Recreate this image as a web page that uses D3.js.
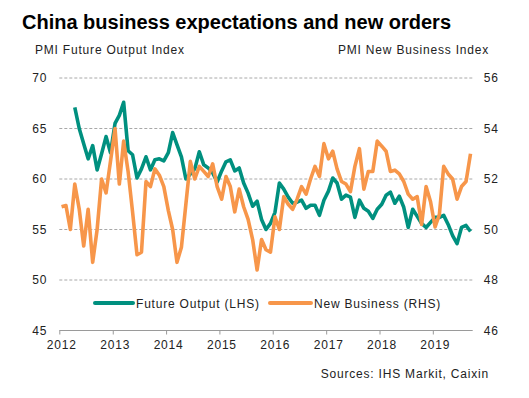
<!DOCTYPE html>
<html><head><meta charset="utf-8">
<script src="https://cdn.jsdelivr.net/npm/d3@7"></script>
<style>
html,body{margin:0;padding:0;background:#fff;}
svg{display:block;font-family:"Liberation Sans",Arial,sans-serif;}
</style></head>
<body>
<svg id="chart" width="529" height="398"></svg>
<script>
const title = "China business expectations and new orders";
const leftAxisTitle = "PMI Future Output Index";
const rightAxisTitle = "PMI New Business Index";
const sourceText = "Sources: IHS Markit, Caixin";
const seriesNames = ["Future Output (LHS)", "New Business (RHS)"];
const startMonth = [2012, 0];
const leftTicks = [45, 50, 55, 60, 65, 70];
const rightTicks = [46, 48, 50, 52, 54, 56];
const yearTicks = [2012, 2013, 2014, 2015, 2016, 2017, 2018, 2019];

const futureOutput = [null, null, null,
  67.1, 65.0, 63.5, 62.0, 63.3, 60.9, 62.5, 64.2, 62.6,
  65.5, 66.3, 67.6, 62.8, 62.4, 60.1, 61.0, 62.2, 60.9, 61.9, 62.0, 61.8,
  62.6, 64.6, 63.4, 62.2, 60.0, 60.5, 61.0, 62.7, 61.4, 61.1, 60.6, 59.7,
  60.8, 61.7, 61.9, 60.8, 61.1, 59.6, 58.6, 57.3, 57.8, 56.0, 55.0, 55.6,
  56.7, 59.6, 59.0, 58.2, 57.6, 57.7, 57.9, 57.1, 57.4, 57.4, 56.4, 57.9,
  58.8, 60.1, 59.6, 58.0, 58.4, 58.2, 56.2, 57.9, 57.1, 56.8, 56.1, 57.0,
  57.5, 58.4, 58.7, 57.6, 58.3, 57.2, 55.2, 57.0, 56.3, 55.6, 55.2, 55.7,
  56.2, 56.2, 56.4, 55.5, 54.4, 53.6, 55.2, 55.4, 54.8];

const newBusiness = [
  50.9, 50.95, 50.0, 51.8, 50.8, 49.35, 50.8, 48.7, 50.0, 52.0, 51.45, 52.7,
  54.0, 51.8, 53.5, 52.3, 50.7, 49.0, 49.1, 51.9, 51.7, 52.4, 52.15, 51.7,
  50.75, 50.0, 48.7, 49.3, 51.0, 52.7, 52.0, 52.5, 52.3, 52.1, 52.6, 51.7,
  51.2, 52.1, 51.7, 50.7, 51.6, 50.9, 50.4, 49.6, 48.4, 49.6, 49.2, 49.1,
  50.5, 50.0, 51.3, 51.0, 50.8, 51.2, 51.7, 51.4, 52.0, 52.5, 52.1, 53.4,
  52.8, 53.1, 52.4, 51.9, 51.8, 51.5, 52.5, 53.2, 51.6, 52.3, 52.3, 53.5,
  53.3, 53.1, 52.3, 52.35, 52.2, 51.9, 51.4, 51.2, 51.3, 50.2, 51.7, 51.1,
  50.1, 50.6, 52.5, 52.2, 52.0, 51.2, 51.7, 51.9, 53.0];

const tealColor = "#00907f";
const orangeColor = "#f7964a";

const svg = d3.select("#chart");
const plot = {left: 59.3, right: 472.7, top: 78, bottom: 330.5};

const months = newBusiness.map((_, i) => new Date(startMonth[0], startMonth[1] + i, 1));
const x = d3.scaleTime()
  .domain([months[0], new Date(startMonth[0], startMonth[1] + newBusiness.length, 1)])
  .range([plot.left, plot.right]);
const xMid = i => (x(months[i]) + x(new Date(startMonth[0], startMonth[1] + i + 1, 1))) / 2;

const yL = d3.scaleLinear().domain([45, 70]).range([plot.bottom, plot.top]);
const yR = d3.scaleLinear().domain([46, 56]).range([plot.bottom, plot.top]);

// Title
svg.append("text").attr("x", 22).attr("y", 29)
  .attr("font-size", 20).attr("font-weight", "bold").attr("fill", "#000")
  .text(title);

const lbl = (sel) => sel.attr("font-size", 12).attr("letter-spacing", "0.8px").attr("fill", "#222");

lbl(svg.append("text")).attr("x", 35).attr("y", 54).text(leftAxisTitle);
lbl(svg.append("text")).attr("x", 489).attr("y", 54).attr("text-anchor", "end").text(rightAxisTitle);

// gridlines
svg.append("g").selectAll("line").data(leftTicks.filter(t => t > 45)).join("line")
  .attr("x1", plot.left).attr("x2", plot.right)
  .attr("y1", d => yL(d)).attr("y2", d => yL(d))
  .attr("stroke", "#a8a8a8").attr("stroke-width", 1).attr("stroke-dasharray", "3,2");

// left axis labels
const leftAxis = d3.axisLeft(yL).tickValues(leftTicks).tickSize(0).tickPadding(12);
const gl = svg.append("g").attr("transform", `translate(${plot.left},0)`).call(leftAxis);
gl.select(".domain").remove();
gl.selectAll("text").attr("font-size", 12).attr("letter-spacing", "0.8px").attr("fill", "#222")
  .attr("font-family", "Liberation Sans, Arial, sans-serif").attr("x", -12);

const rightAxis = d3.axisRight(yR).tickValues(rightTicks).tickSize(0).tickPadding(11);
const gr = svg.append("g").attr("transform", `translate(${plot.right},0)`).call(rightAxis);
gr.select(".domain").remove();
gr.selectAll("text").attr("font-size", 12).attr("letter-spacing", "0.8px").attr("fill", "#222")
  .attr("font-family", "Liberation Sans, Arial, sans-serif");

// bottom axis
const xAxis = d3.axisBottom(x).tickValues(yearTicks.map(y => new Date(y, 0, 1)))
  .tickFormat(d3.timeFormat("%Y")).tickSize(4).tickPadding(6);
const gx = svg.append("g").attr("transform", `translate(0,${plot.bottom})`).call(xAxis);
gx.select(".domain").attr("stroke", "#9a9a9a").attr("d", `M${plot.left},0H${plot.right}`);
gx.selectAll(".tick line").attr("stroke", "#9a9a9a");
gx.selectAll("text").attr("font-size", 12).attr("letter-spacing", "0.8px").attr("fill", "#222")
  .attr("font-family", "Liberation Sans, Arial, sans-serif").attr("dx", "2");

// lines
const lineL = d3.line().defined(d => d != null).x((d, i) => xMid(i)).y(d => yL(d));
const lineR = d3.line().defined(d => d != null).x((d, i) => xMid(i)).y(d => yR(d));
svg.append("path").datum(futureOutput).attr("d", lineL)
  .attr("fill", "none").attr("stroke", tealColor).attr("stroke-width", 3.6)
  .attr("stroke-linejoin", "round");
svg.append("path").datum(newBusiness).attr("d", lineR)
  .attr("fill", "none").attr("stroke", orangeColor).attr("stroke-width", 3.6)
  .attr("stroke-linejoin", "round");

// legend
const legend = [
  {name: seriesNames[0], color: tealColor, x1: 95, x2: 133},
  {name: seriesNames[1], color: orangeColor, x1: 270, x2: 311}
];
const lg = svg.append("g");
legend.forEach(l => {
  lg.append("line").attr("x1", l.x1).attr("x2", l.x2).attr("y1", 303).attr("y2", 303)
    .attr("stroke", l.color).attr("stroke-width", 4).attr("stroke-linecap", "round");
  lbl(lg.append("text")).attr("x", l.x2 + 3).attr("y", 307.5).text(l.name);
});

// source
lbl(svg.append("text")).attr("x", 489).attr("y", 378).attr("text-anchor", "end").text(sourceText);
</script>
</body></html>
